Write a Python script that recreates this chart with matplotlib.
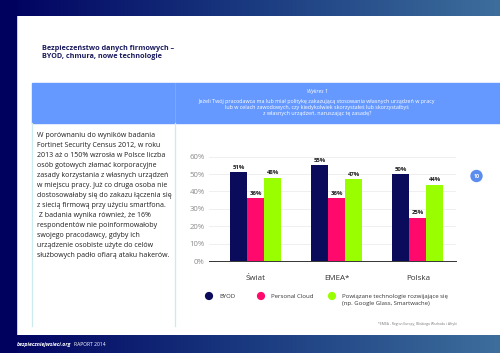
import matplotlib
matplotlib.use("Agg")
import matplotlib.pyplot as plt
import numpy as np
from matplotlib.colors import LinearSegmentedColormap
from matplotlib.patches import Rectangle, Circle

plt.rcParams["font.family"] = ["Open Sans", "DejaVu Sans"]

# data
regions = ["Świat", "EMEA*", "Polska"]
byod = [51, 55, 50]
cloud = [36, 36, 25]
newtech = [48, 47, 44]
series_names = ["BYOD", "Personal Cloud",
                "Powiązane technologie rozwijające się\n(np. Google Glass, Smartwache)"]
colors = ["#0b0b5c", "#ff0a6c", "#99ff00"]
yticks = [0, 10, 20, 30, 40, 50, 60]

title = "Bezpieczeństwo danych firmowych –\nBYOD, chmura, nowe technologie"
header = ("Jeżeli Twój pracodawca ma lub miał politykę zakazującą stosowania własnych urządzeń w pracy\n"
          "lub w celach zawodowych, czy kiedykolwiek skorzystałeś lub skorzystałbyś\n"
          "z własnych urządzeń, naruszając tę zasadę?")
body = ("W porównaniu do wyników badania\n"
        "Fortinet Security Census 2012, w roku\n"
        "2013 aż o 150% wzrosła w Polsce liczba\n"
        "osób gotowych złamać korporacyjne\n"
        "zasady korzystania z własnych urządzeń\n"
        "w miejscu pracy. Już co druga osoba nie\n"
        "dostosowałaby się do zakazu łączenia się\n"
        "z siecią firmową przy użyciu smartfona.\n"
        " Z badania wynika również, że 16%\n"
        "respondentów nie poinformowałoby\n"
        "swojego pracodawcy, gdyby ich\n"
        "urządzenie osobiste użyte do celów\n"
        "służbowych padło ofiarą ataku hakerów.")

fig = plt.figure(figsize=(5, 3.53), dpi=100)

# page layout in pixel coordinates
bg = fig.add_axes([0, 0, 1, 1])
bg.set_xlim(0, 500)
bg.set_ylim(353, 0)
bg.axis("off")

grad = LinearSegmentedColormap.from_list("band", ["#000060", "#1a3a80", "#3d6e9c"])
g = np.linspace(0, 1, 256).reshape(1, -1)
bg.imshow(g, cmap=grad, extent=[0, 500, 16, 0], aspect="auto")
bg.imshow(g, cmap=grad, extent=[0, 500, 353, 335], aspect="auto")
bg.add_patch(Rectangle((0, 0), 16, 353, color="#00005e"))

bg.text(42, 52.5, title, fontsize=5.2, fontweight="bold", color="#1a1a5e",
        va="center", ha="left", linespacing=1.35)

bg.add_patch(Rectangle((32, 83), 468, 40, color="#6699ff"))
bg.plot([175, 175], [83, 123], color="#7fa9ff", lw=0.6)
bg.text(317, 91.5, "Wykres 1", fontsize=3.8, style="italic", color="white",
        ha="center", va="center")
bg.text(317, 107.5, header, fontsize=3.9, color="white", ha="center", va="center",
        linespacing=1.3)

bg.plot([32, 32], [123, 326], color="#cfe9f0", lw=0.9)
bg.plot([175, 175], [123, 326], color="#cfe9f0", lw=0.9)

bg.text(37, 132, body, fontsize=5.0, color="#1e1e1e", ha="left", va="top",
        linespacing=1.6)

bg.add_patch(Circle((476.5, 176), 5.5, color="#5b8def"))
bg.text(476.5, 176.3, "10", fontsize=3.8, color="white", fontweight="bold",
        ha="center", va="center")

legend_x = [209, 261, 332]
for lx, name, c in zip(legend_x, series_names, colors):
    bg.add_patch(Circle((lx, 296), 3.4, color=c))
    bg.text(lx + 10, 296 if "\n" not in name else 300, name, fontsize=4.3,
            color="#333333", ha="left", va="center", linespacing=1.3)

bg.text(457, 323.5, "*EMEA - Region Europy, Bliskiego Wschodu i Afryki",
        fontsize=2.4, color="#777777", ha="right", va="center")

bg.text(17, 344.5, "bezpieczniejwsieci.org", fontsize=3.75, color="white",
        fontweight="bold", style="italic", ha="left", va="center")
bg.text(74.5, 344.5, "RAPORT 2014", fontsize=3.6, color="white",
        ha="left", va="center")

# chart
ax = fig.add_axes([209 / 500, (353 - 261) / 353, 247 / 500, (261 - 156.7) / 353])
x = np.arange(len(regions))
w = 0.21
for i, (vals, c) in enumerate(zip([byod, cloud, newtech], colors)):
    pos = x + (i - 1) * w
    ax.bar(pos, vals, width=w, color=c, zorder=3)
    for p, v in zip(pos, vals):
        ax.text(p, v + 1.2, f"{v}%", fontsize=4.3, fontweight="bold",
                color="#222222", ha="center", va="bottom")

ax.set_xlim(-0.58, 2.47)
ax.set_ylim(0, 60)
ax.set_yticks(yticks)
ax.set_yticklabels([f"{t}%" for t in yticks])
ax.set_xticks(x)
ax.set_xticklabels(regions)
ax.tick_params(axis="y", length=0, labelsize=5.6, labelcolor="#8c8c8c", pad=3)
ax.tick_params(axis="x", length=0, labelsize=5.8, labelcolor="#333333", pad=10)
ax.grid(axis="y", color="#ececec", lw=0.6, zorder=0)
for s in ["left", "right", "top"]:
    ax.spines[s].set_visible(False)
ax.spines["bottom"].set_color("#333333")
ax.spines["bottom"].set_linewidth(0.7)
ax.patch.set_alpha(0)

fig.savefig("out.png", dpi=100)
